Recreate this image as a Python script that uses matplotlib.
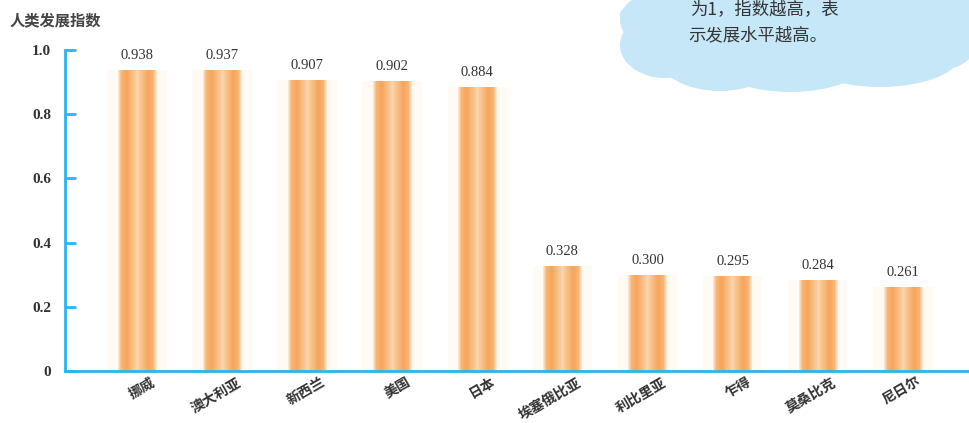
import numpy as np
import matplotlib
matplotlib.use("Agg")
import matplotlib.pyplot as plt
import matplotlib.transforms as mtransforms
from matplotlib.colors import LinearSegmentedColormap
from matplotlib.patches import Ellipse

plt.rcParams['font.family'] = ['Noto Sans CJK SC', 'DejaVu Sans']

# ---- data ----
countries = ["挪威", "澳大利亚", "新西兰", "美国", "日本",
             "埃塞俄比亚", "利比里亚", "乍得", "莫桑比克", "尼日尔"]
hdi = [0.938, 0.937, 0.907, 0.902, 0.884, 0.328, 0.300, 0.295, 0.284, 0.261]
yticks = [0, 0.2, 0.4, 0.6, 0.8, 1.0]
ytick_labels = ["0", "0.2", "0.4", "0.6", "0.8", "1.0"]
ylabel = "人类发展指数"
note_lines = ["为1，指数越高，表", "示发展水平越高。"]

blue = "#29B6EC"
text_col = "#333333"

fig = plt.figure(figsize=(9.7, 4.23), dpi=100)
ax = fig.add_axes([65 / 970, 52 / 423, 905 / 970, 321 / 423])

# bar gradient: pale edge, orange stripe, light centre, orange stripe, pale edge
bar_cmap = LinearSegmentedColormap.from_list("tube", [
    (0.00, "#FDE9D4"), (0.08, "#F8B675"), (0.22, "#F6A55C"),
    (0.40, "#F9C38C"), (0.50, "#FBD6B0"), (0.60, "#F9C38C"),
    (0.78, "#F6A55C"), (0.92, "#F8B675"), (1.00, "#FDE9D4")])
grad = np.linspace(0, 1, 64).reshape(1, -1)

x = np.arange(len(countries))
width = 0.45
# very faint halo behind each bar
ax.bar(x, hdi, width=0.7, color="#FFFAF4", zorder=1)
bars = ax.bar(x, hdi, width=width, color="none", zorder=2)
for rect, xi, v in zip(bars, x, hdi):
    im = ax.imshow(grad, cmap=bar_cmap, aspect="auto", zorder=2,
                   extent=[xi - width / 2, xi + width / 2, 0, v])
    im.set_clip_path(rect)
    ax.text(xi, v + 0.025, f"{v:.3f}", ha="center", va="bottom",
            fontsize=10.5, color=text_col, family=["Liberation Serif"])

ax.set_xlim(-0.846, 9.79)
ax.set_ylim(0, 1.0)

for s in ["top", "right"]:
    ax.spines[s].set_visible(False)
for s in ["left", "bottom"]:
    ax.spines[s].set_color(blue)
    ax.spines[s].set_linewidth(2)

ax.set_yticks(yticks)
ax.set_yticklabels(ytick_labels, family=["Liberation Serif"], fontsize=11,
                   color=text_col, fontweight="bold")
ax.tick_params(axis="y", direction="in", length=8, width=2, color=blue, pad=10)

ax.set_xticks(x)
ax.set_xticklabels(countries, rotation=30, ha="right", va="top",
                   rotation_mode="anchor", fontsize=10, fontweight="bold",
                   color=text_col)
ax.tick_params(axis="x", length=0, pad=3)
offset = mtransforms.ScaledTranslation(14 / 100, 0, fig.dpi_scale_trans)
for lbl in ax.get_xticklabels():
    lbl.set_transform(lbl.get_transform() + offset)

fig.text(10 / 970, 1 - 20 / 423, ylabel, fontsize=11, fontweight="bold",
         color="#444444", va="center", ha="left")

# cloud overlay in pixel coordinates
ov = fig.add_axes([0, 0, 1, 1], zorder=5)
ov.set_xlim(0, 970)
ov.set_ylim(423, 0)
ov.axis("off")
ov.patch.set_alpha(0)
cloud = "#C6E7F8"
for cx, cy, w, h in [(665, 45, 90, 66), (720, 58, 120, 66), (790, 62, 150, 60),
                     (880, 55, 160, 64), (940, 35, 80, 70), (760, 15, 280, 60),
                     (900, 10, 180, 50), (650, 20, 60, 50)]:
    ov.add_patch(Ellipse((cx, cy), w, h, color=cloud, lw=0))
ov.text(690, 9, note_lines[0], fontsize=12.5, color=text_col, va="center", ha="left")
ov.text(688, 35, note_lines[1], fontsize=12.5, color=text_col, va="center", ha="left")

fig.savefig("out.png", dpi=100)
